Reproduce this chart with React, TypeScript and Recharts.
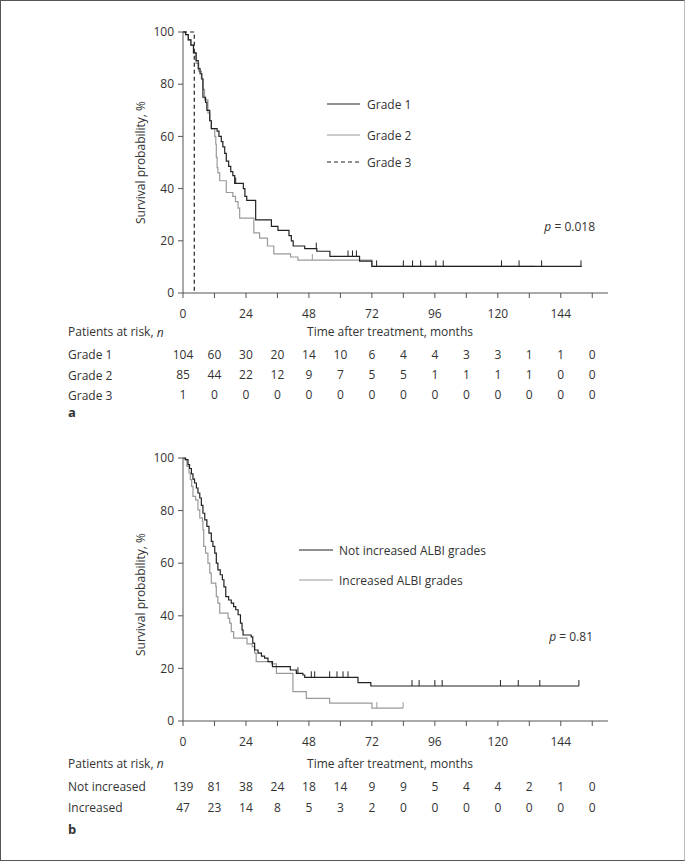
import { ComposedChart, Line, Scatter, XAxis, YAxis } from 'recharts'

const FONT = '"Open Sans", "Noto Sans", sans-serif'
const INK = '#333'
const AXIS = '#555'
const DARK = '#222'
const LIGHT = '#9a9a9a'

const monthTicks = [0, 12, 24, 36, 48, 60, 72, 84, 96, 108, 120, 132, 144, 156]
const survTicks = [0, 20, 40, 60, 80, 100]

// panel a: ALBI grade
const grade1Time = [0, 1, 2, 3, 4, 5, 5.8, 6.5, 7.2, 7.6, 8.6, 9.1, 10.2, 10.8, 13, 13.7, 14.6, 15.2, 15.9, 16.5, 17.4, 18.2, 19, 19.7, 23, 23.6, 24.3, 27.7, 33.7, 36.2, 40.4, 41.3, 42, 46.4, 51, 56, 67.3, 72, 152]
const grade1Surv = [100, 99, 97, 95, 92, 89, 86, 84, 82, 75, 73, 70, 66, 63, 62, 60, 58, 56, 53.5, 50.5, 48.5, 46.5, 45, 42, 40, 37, 35.5, 28, 25.5, 24, 22, 20, 18, 17, 16, 14, 12.2, 10.2, 10.2]
const grade1Censor = [20.1, 50.8, 62.9, 64.6, 66.1, 73.8, 84, 87.5, 90.6, 96.4, 99.2, 121.4, 128.1, 136.7, 151.7]

const grade2Time = [0, 1, 2, 3, 4, 5, 6, 7, 7.6, 8.2, 9.5, 10.2, 10.8, 12.1, 12.5, 12.7, 13, 13.3, 14, 16.5, 19, 20, 21, 21.6, 27, 29.2, 32.2, 34.6, 41, 43.8, 72, 134]
const grade2Surv = [100, 99, 97, 95, 92, 88, 85, 82, 78, 74, 69, 66, 63, 60, 57, 52, 48, 46, 43, 38.5, 37, 35, 32.5, 28.7, 23, 21, 18, 15, 13.8, 12.6, 10.2, 10.2]
const grade2Censor = [49.3]

const grade3Time = [0, 4.3]
const grade3Surv = [100, 0]

const riskGrade1 = [104, 60, 30, 20, 14, 10, 6, 4, 4, 3, 3, 1, 1, 0]
const riskGrade2 = [85, 44, 22, 12, 9, 7, 5, 5, 1, 1, 1, 1, 0, 0]
const riskGrade3 = [1, 0, 0, 0, 0, 0, 0, 0, 0, 0, 0, 0, 0, 0]

// panel b: change of ALBI grade
const notIncTime = [0, 1, 1.9, 2.5, 3.2, 3.8, 4.4, 5.1, 5.7, 6.4, 7, 7.6, 8.3, 9.1, 9.9, 10.8, 11.4, 12.1, 12.7, 13.3, 14.2, 15, 15.6, 16.3, 17.4, 18.4, 19.3, 20.1, 21, 21.9, 22.5, 22.9, 26, 26.6, 27.3, 28.6, 29.9, 31.1, 32.4, 34.1, 40.9, 43.2, 45.7, 46.4, 66.7, 71.6, 150.9]
const notIncSurv = [100, 99.4, 97.5, 96, 94, 92, 90.5, 88.6, 86.7, 84.8, 82, 79, 76.5, 74, 71.4, 68.3, 66.4, 63.8, 60, 57.5, 55.6, 53.7, 51, 47.3, 46, 44.8, 43.5, 42.3, 40.4, 37.2, 34.6, 32.7, 32, 29.6, 27, 25.8, 24.7, 23.9, 22.6, 20.7, 19.4, 18.1, 17.5, 16.6, 14.6, 13.3, 13.3]
const notIncCensor = [43.8, 48.9, 50.2, 55.9, 58.7, 61, 62.9, 87.3, 90, 96, 98.8, 121, 127.8, 136, 150.9]

const incTime = [0, 0.6, 1.5, 2.3, 2.8, 3.3, 3.8, 4.8, 5.7, 6.4, 7.4, 7.6, 7.9, 8.6, 9.5, 10.2, 10.8, 12.5, 12.7, 13.3, 14, 17.2, 17.8, 18.4, 19.3, 24.4, 26.4, 27.3, 27.9, 33.7, 35.6, 41.9, 47, 55.9, 72, 83.9]
const incSurv = [100, 99.4, 96.8, 94.3, 91.8, 89.2, 85.4, 84.1, 80.3, 77.2, 75.9, 72.7, 66.4, 63.8, 60, 56.2, 52.4, 51.1, 47.3, 44.8, 41, 39, 37.2, 34, 31.5, 29.3, 28.3, 25.8, 22.6, 21.7, 18.1, 11.2, 8.6, 6.8, 4.9, 4.9]
const incCensor = [73.9, 83.9]

const riskNotInc = [139, 81, 38, 24, 18, 14, 9, 9, 5, 4, 4, 2, 1, 0]
const riskInc = [47, 23, 14, 8, 5, 3, 2, 0, 0, 0, 0, 0, 0, 0]

type Pt = { x: number; y: number }

const steps = (time: number[], surv: number[]): Pt[] => time.map((t, i) => ({ x: t, y: surv[i] }))

const survAt = (time: number[], surv: number[], t: number) => {
  let v = surv[0]
  time.forEach((tt, i) => {
    if (tt <= t) v = surv[i]
  })
  return v
}

const censored = (marks: number[], time: number[], surv: number[]): Pt[] =>
  marks.map(t => ({ x: t, y: survAt(time, surv, t) }))

const riskRow = (counts: number[]) => counts.map((n, i) => ({ x: monthTicks[i], y: 0, n }))

type Series = { name: string; time: number[]; surv: number[]; censor: number[]; color: string; dash?: string }
type RiskRow = { label: string; counts: number[]; dy: number }

type PanelProps = {
  height: number
  marginTop: number
  marginBottom: number
  series: Series[]
  risk: RiskRow[]
  titleDy: number
  ylabelShift: number
}

function SurvPanel({ height, marginTop, marginBottom, series, risk, titleDy, ylabelShift }: PanelProps) {
  return (
    <ComposedChart width={685} height={height} margin={{ top: marginTop, right: 77, bottom: marginBottom, left: 123 }}>
      <XAxis
        type="number"
        dataKey="x"
        domain={[0, 162]}
        ticks={monthTicks}
        interval={0}
        tickFormatter={v => (v % 24 === 0 && v <= 144 ? String(v) : '')}
        tick={{ fontSize: 12, fill: INK }}
        tickSize={5}
        tickMargin={11}
        height={30}
        stroke={AXIS}
        label={({ viewBox }: any) => (
          <text x={viewBox.x + 207} y={viewBox.y + titleDy} textAnchor="middle" dominantBaseline="central" fontSize={12} fill={INK}>
            Time after treatment, months
          </text>
        )}
      />
      <YAxis
        type="number"
        dataKey="y"
        domain={[0, 100]}
        ticks={survTicks}
        interval={0}
        width={60}
        tick={{ fontSize: 12, fill: INK }}
        tickSize={5}
        tickMargin={4}
        stroke={AXIS}
        label={({ viewBox }: any) => {
          const cx = viewBox.x + 17
          const cy = viewBox.y + viewBox.height / 2 + ylabelShift
          return (
            <text x={cx} y={cy} transform={`rotate(-90 ${cx} ${cy})`} textAnchor="middle" dominantBaseline="central" fontSize={12} fill={INK}>
              Survival probability, %
            </text>
          )
        }}
      />
      {series.map(s => (
        <Line
          key={s.name}
          data={steps(s.time, s.surv)}
          dataKey="y"
          type="stepAfter"
          stroke={s.color}
          strokeWidth={1.2}
          strokeDasharray={s.dash}
          dot={false}
          isAnimationActive={false}
        />
      ))}
      {series.map(s => (
        <Scatter
          key={s.name + '-c'}
          data={censored(s.censor, s.time, s.surv)}
          dataKey="y"
          isAnimationActive={false}
          shape={(p: any) => <line x1={p.cx} x2={p.cx} y1={p.cy} y2={p.cy - 6} stroke={s.color} strokeWidth={1} />}
        />
      ))}
      {risk.map(r => (
        <Scatter
          key={r.label}
          data={riskRow(r.counts)}
          dataKey="y"
          isAnimationActive={false}
          shape={(p: any) => (
            <text x={p.cx} y={p.cy + r.dy} textAnchor="middle" dominantBaseline="central" fontSize={12} fill={INK}>
              {p.payload.n}
            </text>
          )}
        />
      ))}
    </ComposedChart>
  )
}

const txt = { fontSize: 12, fill: INK, dominantBaseline: 'central' as const }

export default function App() {
  return (
    <div
      style={{
        position: 'absolute',
        left: 0,
        top: 0,
        width: 683,
        height: 859,
        background: '#fff',
        fontFamily: FONT,
        borderTop: '1px solid #555',
        borderLeft: '1px solid #555',
        borderBottom: '1px solid #555',
        borderRight: '1px solid #bbb',
      }}
    >
      <div style={{ position: 'absolute', left: -1, top: -1, width: 685, height: 430 }}>
        <SurvPanel
          height={430}
          marginTop={32}
          marginBottom={107}
          titleDy={38.4}
          ylabelShift={0}
          series={[
            { name: 'Grade 2', time: grade2Time, surv: grade2Surv, censor: grade2Censor, color: LIGHT },
            { name: 'Grade 1', time: grade1Time, surv: grade1Surv, censor: grade1Censor, color: DARK },
            { name: 'Grade 3', time: grade3Time, surv: grade3Surv, censor: [], color: DARK, dash: '4 3' },
          ]}
          risk={[
            { label: 'Grade 1', counts: riskGrade1, dy: 61 },
            { label: 'Grade 2', counts: riskGrade2, dy: 81.7 },
            { label: 'Grade 3', counts: riskGrade3, dy: 101.7 },
          ]}
        />
        <svg width={685} height={430} style={{ position: 'absolute', left: 0, top: 0, pointerEvents: 'none' }}>
          <line x1={327} x2={360} y1={104} y2={104} stroke={DARK} strokeWidth={1.2} />
          <line x1={327} x2={360} y1={135} y2={135} stroke={LIGHT} strokeWidth={1.2} />
          <line x1={327} x2={360} y1={162} y2={162} stroke={DARK} strokeWidth={1.2} strokeDasharray="4 3" />
          <text x={367} y={104} {...txt}>Grade 1</text>
          <text x={367} y={135} {...txt}>Grade 2</text>
          <text x={367} y={162} {...txt}>Grade 3</text>
          <text x={595} y={226} textAnchor="end" {...txt}>
            <tspan fontStyle="italic">p</tspan> = 0.018
          </text>
          <text x={68} y={331.7} {...txt}>
            Patients at risk, <tspan fontStyle="italic">n</tspan>
          </text>
          <text x={68} y={354.3} {...txt}>Grade 1</text>
          <text x={68} y={375} {...txt}>Grade 2</text>
          <text x={68} y={395} {...txt}>Grade 3</text>
          <text x={68} y={412} {...txt} fontWeight="bold" fontSize={13}>a</text>
        </svg>
      </div>
      <div style={{ position: 'absolute', left: -1, top: 429, width: 685, height: 431 }}>
        <SurvPanel
          height={431}
          marginTop={28}
          marginBottom={110}
          titleDy={42.3}
          ylabelShift={5}
          series={[
            { name: 'Increased', time: incTime, surv: incSurv, censor: incCensor, color: LIGHT },
            { name: 'Not increased', time: notIncTime, surv: notIncSurv, censor: notIncCensor, color: DARK },
          ]}
          risk={[
            { label: 'Not increased', counts: riskNotInc, dy: 65.7 },
            { label: 'Increased', counts: riskInc, dy: 86.7 },
          ]}
        />
        <svg width={685} height={431} style={{ position: 'absolute', left: 0, top: 0, pointerEvents: 'none' }}>
          <line x1={299} x2={333} y1={120} y2={120} stroke={DARK} strokeWidth={1.2} />
          <line x1={299} x2={333} y1={150} y2={150} stroke={LIGHT} strokeWidth={1.2} />
          <text x={339} y={120} {...txt}>Not increased ALBI grades</text>
          <text x={339} y={150} {...txt}>Increased ALBI grades</text>
          <text x={593} y={206} textAnchor="end" {...txt}>
            <tspan fontStyle="italic">p</tspan> = 0.81
          </text>
          <text x={68} y={333.3} {...txt}>
            Patients at risk, <tspan fontStyle="italic">n</tspan>
          </text>
          <text x={68} y={356.7} {...txt}>Not increased</text>
          <text x={68} y={377.7} {...txt}>Increased</text>
          <text x={68} y={399} {...txt} fontWeight="bold" fontSize={13}>b</text>
        </svg>
      </div>
    </div>
  )
}
